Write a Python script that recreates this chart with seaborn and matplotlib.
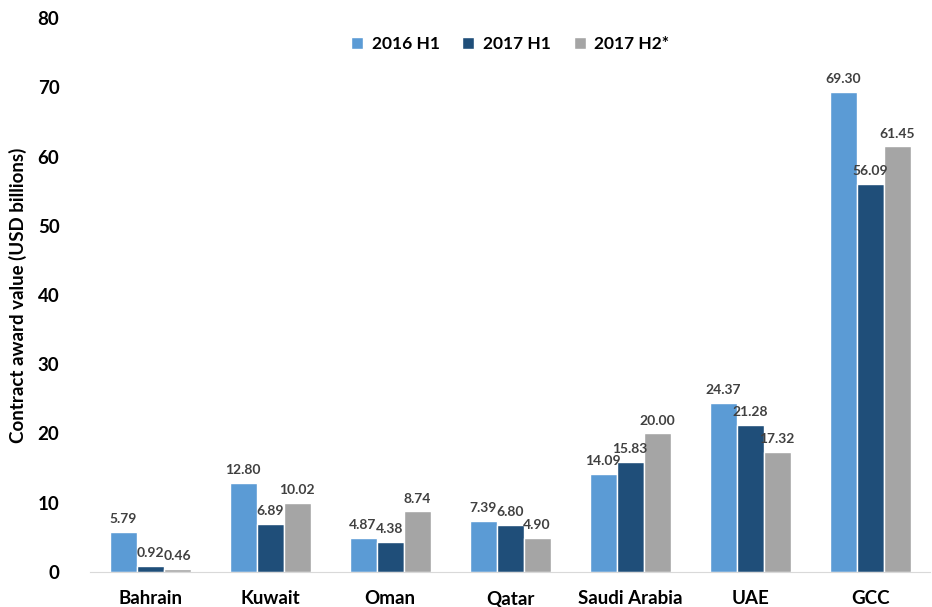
import numpy as np
import pandas as pd
import seaborn as sns
from matplotlib import pyplot as plt

sns.set_style('white')
plt.rcParams['font.family'] = ['Lato', 'DejaVu Sans']

countries = ['Bahrain', 'Kuwait', 'Oman', 'Qatar', 'Saudi Arabia', 'UAE', 'GCC']
periods = ['2016 H1', '2017 H1', '2017 H2*']
h1_2016 = [5.79, 12.80, 4.87, 7.39, 14.09, 24.37, 69.30]
h1_2017 = [0.92, 6.89, 4.38, 6.80, 15.83, 21.28, 56.09]
h2_2017 = [0.46, 10.02, 8.74, 4.90, 20.00, 17.32, 61.45]
colors = ['#5B9BD5', '#1F4E79', '#A5A5A5']

# long form table for seaborn
data = pd.DataFrame({
    'Country': countries * 3,
    'Period': np.repeat(periods, len(countries)),
    'Value': h1_2016 + h1_2017 + h2_2017,
})

fig = plt.figure(figsize=(9.32, 6.07), dpi=100)
ax = fig.add_axes([0.0966, 0.0577, 0.9014, 0.9126])

sns.barplot(data=data, x='Country', y='Value', hue='Period', order=countries,
            hue_order=periods, palette=colors, width=0.675, saturation=1,
            errorbar=None, ax=ax)

for container in ax.containers:
    ax.bar_label(container, fmt='%.2f', padding=5, fontsize=10,
                 fontweight='bold', color='#404040', clip_on=False)

ax.set_xlim(-0.5, 6.5)
ax.set_ylim(0, 80)
ax.set_yticks(range(0, 81, 10))
ax.set_xlabel('')
ax.set_ylabel('Contract award value (USD billions)', fontsize=13.5,
              fontweight='bold', labelpad=8, color='black')
ax.tick_params(axis='both', length=0, labelsize=13.5, labelcolor='black')
ax.tick_params(axis='y', pad=22)
ax.tick_params(axis='x', pad=13)
for lbl in ax.get_xticklabels() + ax.get_yticklabels():
    lbl.set_fontweight('bold')

for side in ['top', 'right', 'left']:
    ax.spines[side].set_visible(False)
ax.spines['bottom'].set_color('#D9D9D9')

leg = ax.legend(loc='upper center', bbox_to_anchor=(0.5, 0.995), ncol=3,
                frameon=False, handlelength=0.7, handleheight=0.7,
                columnspacing=1.3, handletextpad=0.5,
                prop={'weight': 'bold', 'size': 12.5})
for txt in leg.get_texts():
    txt.set_color('black')

fig.savefig('out.png', dpi=100)
